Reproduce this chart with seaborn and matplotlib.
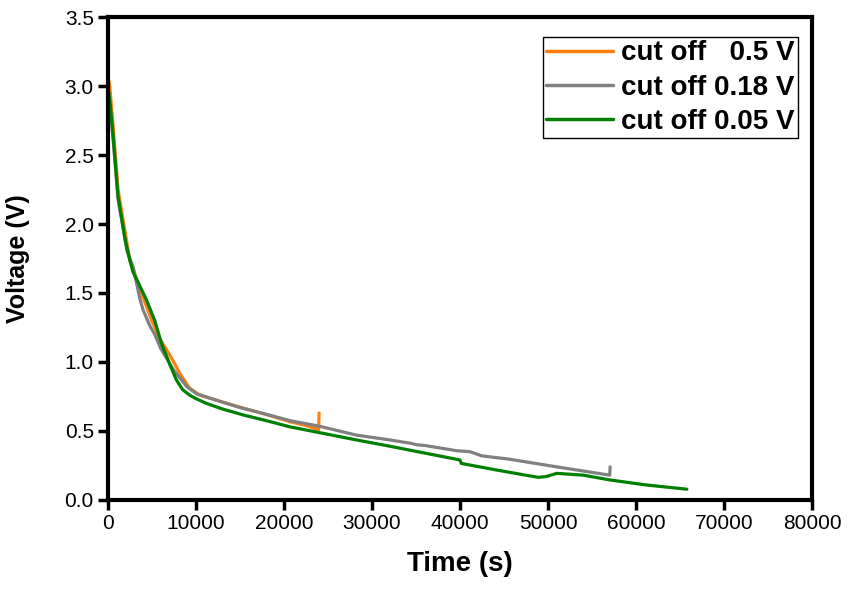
import numpy as np
import pandas as pd
import matplotlib
matplotlib.use("Agg")
import matplotlib.pyplot as plt
import seaborn as sns

# ── DATA ─────────────────────────────────────────────────────────
t_05 = [0, 230, 600, 1170, 2500, 3300, 4000, 5000, 5900, 6700, 7500, 8180, 9300,
        10450, 13000, 16000, 18500, 20700, 22500, 23950, 24000]
v_05 = [3.08, 3.0, 2.72, 2.25, 1.74, 1.6, 1.47, 1.3, 1.17, 1.087, 1.0, 0.918, 0.81,
        0.76, 0.71, 0.655, 0.61, 0.567, 0.54, 0.51, 0.63]

t_018 = [0, 200, 600, 1170, 2200, 2880, 3640, 4000, 4800, 5340, 6000, 7500, 9000,
         10080, 12500, 15000, 17500, 20700, 24000, 28250, 32050, 34500, 35080,
         36000, 39620, 41140, 42460, 45680, 50990, 54000, 57000, 57050]
v_018 = [3.0, 2.9, 2.62, 2.18, 1.8, 1.69, 1.46, 1.38, 1.26, 1.2, 1.1, 0.94, 0.82,
         0.77, 0.72, 0.67, 0.63, 0.575, 0.535, 0.47, 0.435, 0.41, 0.40,
         0.395, 0.357, 0.35, 0.32, 0.295, 0.24, 0.21, 0.18, 0.24]

t_005 = [0, 230, 600, 1170, 2000, 2500, 2880, 3500, 4400, 5340, 6100, 7000, 7800,
         8500, 9300, 10000, 11200, 13000, 15400, 18000, 20700, 24450, 28250,
         32000, 36000, 40000, 40150, 44170, 47000, 48900, 49800, 50990, 54000,
         57040, 61000, 65760]
v_005 = [3.0, 2.9, 2.65, 2.2, 1.88, 1.74, 1.65, 1.57, 1.45, 1.3, 1.135, 0.99,
         0.87, 0.8, 0.76, 0.735, 0.70, 0.66, 0.616, 0.575, 0.53, 0.483, 0.435,
         0.39, 0.34, 0.29, 0.265, 0.217, 0.185, 0.164, 0.17, 0.193, 0.18,
         0.145, 0.11, 0.078]

labels = ["cut off   0.5 V", "cut off 0.18 V", "cut off 0.05 V"]
colors = ["#ff7f0e", "#808080", "#008000"]

x_ticks = [0, 10000, 20000, 30000, 40000, 50000, 60000, 70000, 80000]
y_ticks = [0.0, 0.5, 1.0, 1.5, 2.0, 2.5, 3.0, 3.5]

df = pd.concat([
    pd.DataFrame({"time": t_05, "voltage": v_05, "series": labels[0]}),
    pd.DataFrame({"time": t_018, "voltage": v_018, "series": labels[1]}),
    pd.DataFrame({"time": t_005, "voltage": v_005, "series": labels[2]}),
], ignore_index=True)

# ── PLOT ─────────────────────────────────────────────────────────
sns.set_style("white")
plt.rcParams["font.family"] = ["Liberation Sans", "DejaVu Sans"]
plt.rcParams["text.color"] = "black"
plt.rcParams["axes.labelcolor"] = "black"
plt.rcParams["xtick.color"] = "black"
plt.rcParams["ytick.color"] = "black"

fig = plt.figure(figsize=(8.55, 5.97), dpi=100)
ax = fig.add_axes([0.126, 0.1625, 0.824, 0.809])

sns.lineplot(data=df, x="time", y="voltage", hue="series", hue_order=labels,
             palette=colors, estimator=None, sort=False, linewidth=2.3, ax=ax)

ax.set_xlim(0, 80000)
ax.set_ylim(0, 3.5)
ax.set_xticks(x_ticks)
ax.set_xticklabels([str(v) for v in x_ticks])
ax.set_yticks(y_ticks)
ax.set_yticklabels([f"{v:.1f}" for v in y_ticks])

for s in ax.spines.values():
    s.set_visible(True)
    s.set_linewidth(3)
    s.set_color("black")

ax.tick_params(axis="both", direction="out", length=7, width=2.5, color="black",
               bottom=True, left=True)
ax.tick_params(axis="x", labelsize=15, pad=3)
ax.tick_params(axis="y", labelsize=15, pad=3)

ax.set_xlabel("Time (s)", fontsize=20, fontweight="bold", labelpad=13)
ax.set_ylabel("Voltage (V)", fontsize=18, fontweight="bold", labelpad=25)

handles, _ = ax.get_legend_handles_labels()
leg = ax.legend(handles, labels, loc="upper right",
                bbox_to_anchor=(0.980, 0.9586), borderaxespad=0,
                prop={"size": 20, "weight": "bold"}, frameon=True,
                fancybox=False, framealpha=1, edgecolor="black",
                handlelength=2.4, handletextpad=0.3, labelspacing=0.3,
                borderpad=0.12)
leg.get_frame().set_linewidth(1.0)
for line in leg.get_lines():
    line.set_linewidth(2.5)

fig.savefig("out.png", dpi=100)
